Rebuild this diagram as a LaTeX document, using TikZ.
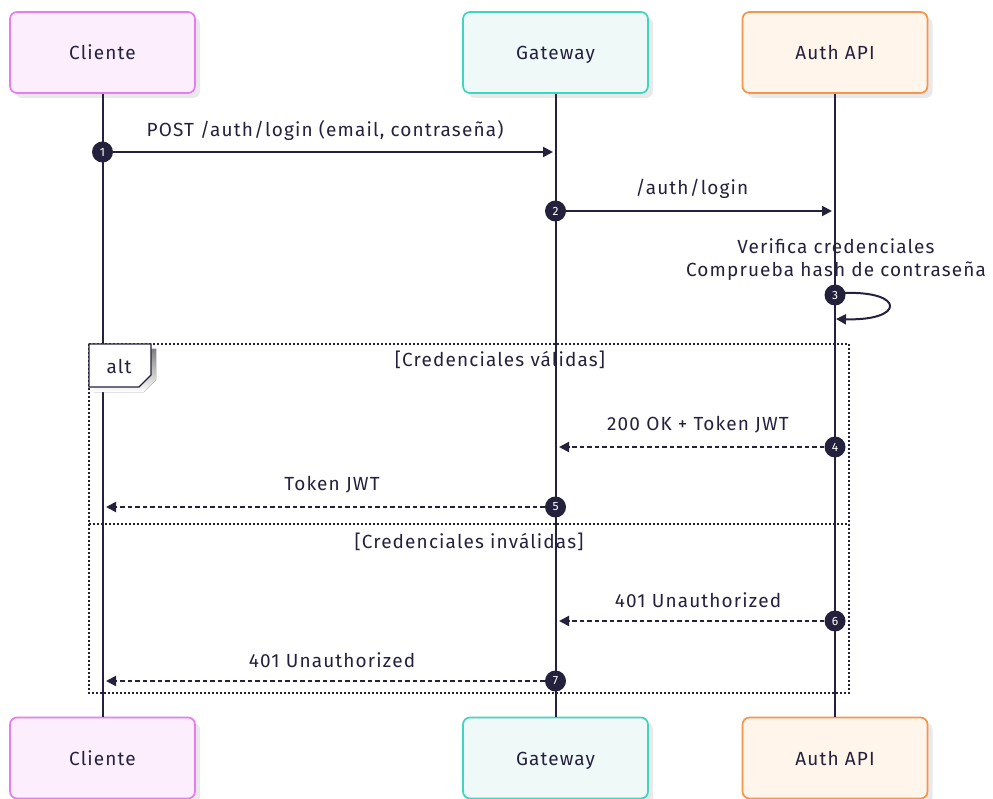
\documentclass[tikz,border=0pt]{standalone}
\usepackage{fontspec}
\setmainfont{Fira Sans}[LetterSpace=6]
\usetikzlibrary{arrows.meta,shadows,calc}
\definecolor{ink}{HTML}{24213D}
\definecolor{cliFill}{HTML}{FCEEFD}
\definecolor{cliLine}{HTML}{E67CF0}
\definecolor{gwFill}{HTML}{EFF9F8}
\definecolor{gwLine}{HTML}{3ED6C0}
\definecolor{auFill}{HTML}{FFF5EB}
\definecolor{auLine}{HTML}{F7964A}
\definecolor{shade}{HTML}{E9E9EC}
\tikzset{
  actor/.style={draw, rounded corners=7pt, line width=1.7pt, minimum width=185pt,
    minimum height=81pt, font=\fontsize{19}{23}\selectfont, text=ink,
    text height=18pt, text depth=4pt,
    general shadow={fill=shade, shadow xshift=5pt, shadow yshift=-5pt}},
  life/.style={draw=ink, line width=2pt},
  num/.style={circle, fill=ink, text=white, inner sep=0pt, minimum size=21pt,
    font=\fontsize{12}{13}\selectfont},
  lbl/.style={text=ink, font=\fontsize{19}{23}\selectfont, inner sep=0pt},
  msg/.style={draw=ink, line width=2pt, -{Triangle[length=10pt,width=10pt]}},
  reply/.style={msg, dash pattern=on 4.5pt off 3pt},
  frame/.style={draw=ink, line width=2.2pt, dash pattern=on 2pt off 2pt},
}
\begin{document}
\begin{tikzpicture}[x=1pt,y=-1pt]
\useasboundingbox (0,0) rectangle (993,799);

% participants, top and bottom
\node[actor, fill=cliFill, draw=cliLine] (cliT) at (102.5,52.5) {Cliente};
\node[actor, fill=gwFill, draw=gwLine] (gwT) at (555.5,52.5) {Gateway};
\node[actor, fill=auFill, draw=auLine] (auT) at (835,52.5) {Auth API};
\node[actor, fill=cliFill, draw=cliLine] (cliB) at (102.5,758) {Cliente};
\node[actor, fill=gwFill, draw=gwLine] (gwB) at (555.5,758) {Gateway};
\node[actor, fill=auFill, draw=auLine] (auB) at (835,758) {Auth API};

% lifelines
\draw[life] (cliT.south) -- (cliB.north);
\draw[life] (gwT.south) -- (gwB.north);
\draw[life] (auT.south) -- (auB.north);

% alt frame
\draw[frame] (89,344) rectangle (849,693);
\draw[frame] (89,524) -- (849,524);
\fill[shade] (94,349) -- (156,349) -- (156,380) -- (144,392) -- (94,392) -- cycle;
\filldraw[fill=white, draw=ink, line width=1.3pt] (89,344) -- (151,344) -- (151,375) -- (139,387) -- (89,387) -- cycle;
\node[lbl] (altL) at (119,366) {alt};
\node[lbl] (g1) at (500,360) {[Credenciales válidas]};
\node[lbl] (g2) at (469,542) {[Credenciales inválidas]};

% 1: client -> gateway
\coordinate (e1) at (553,152);
\node[num] (n1) at (102.5,152) {1};
\draw[msg] (n1.east) -- (e1);
\node[lbl] (t1) at (325,130) {POST /auth/login (email, contraseña)};

% 2: gateway -> auth
\coordinate (e2) at (832,211);
\node[num] (n2) at (555.5,211) {2};
\draw[msg] (n2.east) -- (e2);
\node[lbl] (t2) at (692,189) {/auth/login};

% 3: self call on auth
\coordinate (e3) at (836,319);
\node[lbl, align=center] (t3) at (836,260) {Verifica credenciales\\Comprueba hash de contraseña};
\draw[msg] (845,293) .. controls (905,291) and (905,321) .. (e3);
\node[num] (n3) at (835,295) {3};

% 4: auth -> gateway
\coordinate (e4) at (559,447);
\node[num] (n4) at (835,447) {4};
\draw[reply] (n4.west) -- (e4);
\node[lbl] (t4) at (698,425) {200 OK + Token JWT};

% 5: gateway -> client
\coordinate (e5) at (106,507);
\node[num] (n5) at (555.5,507) {5};
\draw[reply] (n5.west) -- (e5);
\node[lbl] (t5) at (332,485) {Token JWT};

% 6: auth -> gateway
\coordinate (e6) at (559,621);
\node[num] (n6) at (835,621) {6};
\draw[reply] (n6.west) -- (e6);
\node[lbl] (t6) at (698,600) {401 Unauthorized};

% 7: gateway -> client
\coordinate (e7) at (106,681);
\node[num] (n7) at (555.5,681) {7};
\draw[reply] (n7.west) -- (e7);
\node[lbl] (t7) at (332,660) {401 Unauthorized};
\end{tikzpicture}
\end{document}
